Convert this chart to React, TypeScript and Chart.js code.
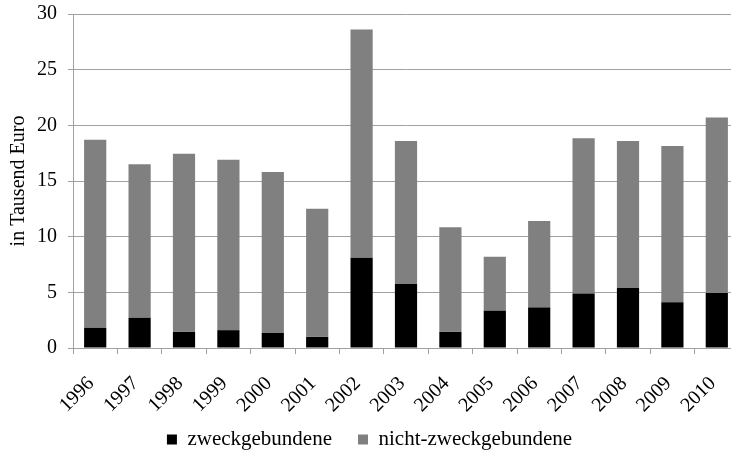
import React, { useEffect, useRef } from "react";
import { Chart, registerables } from "chart.js";

Chart.register(...registerables);

const categories = ["1996","1997","1998","1999","2000","2001","2002","2003","2004","2005","2006","2007","2008","2009","2010"];
const zweckgebunden = [1.8, 2.7, 1.45, 1.6, 1.35, 1.0, 8.1, 5.75, 1.45, 3.35, 3.65, 4.9, 5.4, 4.1, 4.95];
const nichtZweckgebunden = [16.9, 13.8, 16.0, 15.3, 14.45, 11.5, 20.5, 12.85, 9.4, 4.85, 7.75, 13.95, 13.2, 14.05, 15.75];
const yTicks = [0, 5, 10, 15, 20, 25, 30];

const extendLabelArea = {
  id: "extendLabelArea",
  afterLayout(c: any) {
    const x = c.scales.x;
    if (x) x.bottom = c.height;
  },
};

export default function App() {
  const ref = useRef<HTMLCanvasElement>(null);
  useEffect(() => {
    if (!ref.current) return;
    const font = "'Liberation Serif', 'Times New Roman', serif";
    const chart = new Chart(ref.current, {
      type: "bar",
      data: {
        labels: categories,
        datasets: [
          { label: "zweckgebundene", data: zweckgebunden, backgroundColor: "#000000", categoryPercentage: 1, barPercentage: 0.5 },
          { label: "nicht-zweckgebundene", data: nichtZweckgebunden, backgroundColor: "#808080", categoryPercentage: 1, barPercentage: 0.5 },
        ],
      },
      plugins: [extendLabelArea],
      options: {
        animation: false,
        responsive: false,
        maintainAspectRatio: false,
        layout: { padding: { left: 0, right: 0, top: 14, bottom: 0 } },
        plugins: {
          legend: {
            position: "bottom",
            labels: { font: { family: font, size: 21 }, color: "#000", boxWidth: 10, boxHeight: 10, padding: 26 },
          },
          tooltip: { enabled: false },
        },
        scales: {
          x: {
            stacked: true,
            offset: true,
            afterFit: (s: any) => { s.height = 55; s.paddingLeft = 0; s.paddingRight = 0; },
            grid: { offset: true, drawOnChartArea: false, drawTicks: true, tickLength: 6, color: "#a0a0a0" },
            border: { display: true, color: "#a0a0a0" },
            ticks: { color: "#000", font: { family: font, size: 20 }, minRotation: 45, maxRotation: 45, padding: 18, labelOffset: -4 },
          },
          y: {
            stacked: true,
            min: 0,
            max: 30,
            afterBuildTicks: (axis: any) => { axis.ticks = yTicks.map((v) => ({ value: v })); },
            afterFit: (s: any) => { s.width = 73; s.paddingTop = 0; s.paddingBottom = 0; },
            grid: { color: "#a0a0a0", tickLength: 5 },
            border: { display: true, color: "#a0a0a0" },
            ticks: { color: "#000", font: { family: font, size: 20 }, padding: 11 },
            title: { display: true, text: "in Tausend Euro", color: "#000", font: { family: font, size: 20 }, padding: { top: 7, bottom: 0 } },
          },
        },
      },
    });
    return () => chart.destroy();
  }, []);
  return (
    <div style={{ position: "fixed", left: 0, top: 0, width: 731, height: 452, overflow: "hidden", background: "#fff" }}>
      <canvas ref={ref} width={739} height={460} style={{ display: "block" }} />
    </div>
  );
}
